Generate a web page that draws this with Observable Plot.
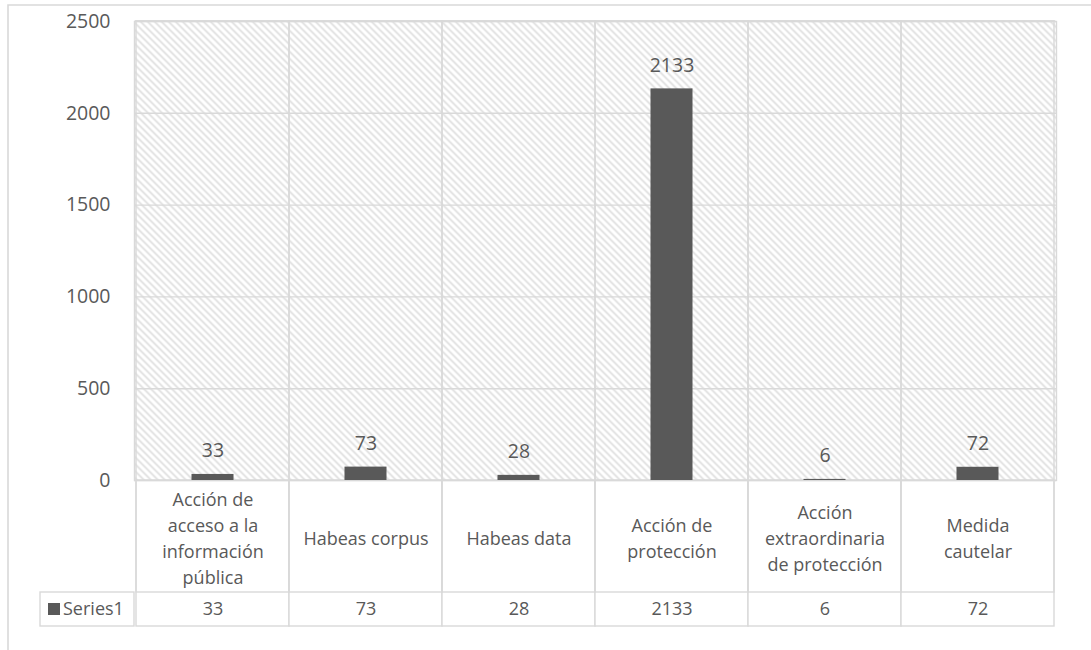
<!DOCTYPE html>
<html>
<head>
<meta charset="utf-8">
<script src="https://cdn.jsdelivr.net/npm/d3@7"></script>
<script src="https://cdn.jsdelivr.net/npm/@observablehq/plot@0.6"></script>
<style>
  html, body { margin: 0; padding: 0; background: #fff; }
  #chart svg { display: block; }
</style>
</head>
<body>
<div id="chart"></div>
<script>
const categories = ["Acción de acceso a la información pública", "Habeas corpus", "Habeas data", "Acción de protección", "Acción extraordinaria de protección", "Medida cautelar"];
const categoryLines = ["Acción de\nacceso a la\ninformación\npública", "Habeas corpus", "Habeas data", "Acción de\nprotección", "Acción\nextraordinaria\nde protección", "Medida\ncautelar"];
const values = [33, 73, 28, 2133, 6, 72];
const yTicks = [0, 500, 1000, 1500, 2000, 2500];
const seriesName = "Series1";

const rows = categories.map((c, i) => ({category: c, label: categoryLines[i], value: values[i]}));

const grid = "#d9d9d9";
const ink = "#595959";
const font = "'Open Sans', sans-serif";

const chart = Plot.plot({
  width: 1091,
  height: 650,
  marginTop: 21,
  marginBottom: 170,
  marginLeft: 134,
  marginRight: 35,
  style: {fontFamily: font, background: "white"},
  x: {type: "band", domain: categories, padding: 0, axis: null},
  y: {domain: [0, 2500], axis: null},
  marks: [
    Plot.cell(rows, {x: "category", fill: "white", stroke: grid, strokeWidth: 1.4, insetBottom: -146}),
    Plot.cell(rows, {x: "category", fill: "none", stroke: grid, strokeWidth: 1.4, insetBottom: -112}),
    Plot.frame({fill: "url(#hatch)", stroke: grid, strokeWidth: 1.4}),
    Plot.gridY(yTicks, {stroke: grid, strokeOpacity: 1, strokeWidth: 1.4}),
    Plot.cell(rows, {x: "category", fill: "none", stroke: grid, strokeWidth: 1.4}),
    Plot.axisY(yTicks, {label: null, tickSize: 0, tickPadding: 24, fontSize: 19.5, fill: ink, tickFormat: d => String(d)}),
    Plot.barY(rows, {x: "category", y: "value", fill: ink, insetLeft: 55.5, insetRight: 55.5}),
    Plot.text(rows, {x: "category", y: "value", text: d => String(d.value), dy: -17, lineAnchor: "bottom", fontSize: 19.5, fill: ink}),
    Plot.text(rows, {x: "category", text: "label", frameAnchor: "bottom", dy: 56, lineAnchor: "middle", lineHeight: 1.44, fontSize: 18, fill: ink}),
    Plot.text(rows, {x: "category", text: d => String(d.value), frameAnchor: "bottom", dy: 129, lineAnchor: "middle", fontSize: 18, fill: ink})
  ]
});

const svg = d3.select(chart);
const defs = svg.insert("defs", ":first-child");
const pat = defs.append("pattern")
  .attr("id", "hatch")
  .attr("patternUnits", "userSpaceOnUse")
  .attr("width", 7).attr("height", 7);
pat.append("rect").attr("width", 7).attr("height", 7).attr("fill", "white");
pat.append("path")
  .attr("d", "M-1,-1L8,8M-1,6L1,8M6,-1L8,1")
  .attr("stroke", "#dedede").attr("stroke-width", 1.6).attr("fill", "none");

// Table row header cell and legend key, positioned from the plot's scales
const xs = chart.scale("x");
const ys = chart.scale("y");
const x0 = xs.range[0];
const yBase = ys.apply(0);
const extra = svg.append("g");
extra.append("rect")
  .attr("x", 40).attr("y", yBase + 112).attr("width", x0 - 40).attr("height", 34)
  .attr("fill", "none").attr("stroke", grid).attr("stroke-width", 1.4);
extra.append("rect")
  .attr("x", 48).attr("y", yBase + 123).attr("width", 12).attr("height", 12)
  .attr("fill", ink);
extra.append("text")
  .attr("x", 63).attr("y", yBase + 129).attr("dy", "0.35em")
  .attr("text-anchor", "start")
  .attr("font-size", 18).attr("fill", ink).attr("font-family", font)
  .text(seriesName);
// outer chart border
extra.append("path")
  .attr("d", `M8,650V5H1091`)
  .attr("fill", "none").attr("stroke", grid).attr("stroke-width", 1.6);

document.getElementById("chart").appendChild(chart);
</script>
</body>
</html>
